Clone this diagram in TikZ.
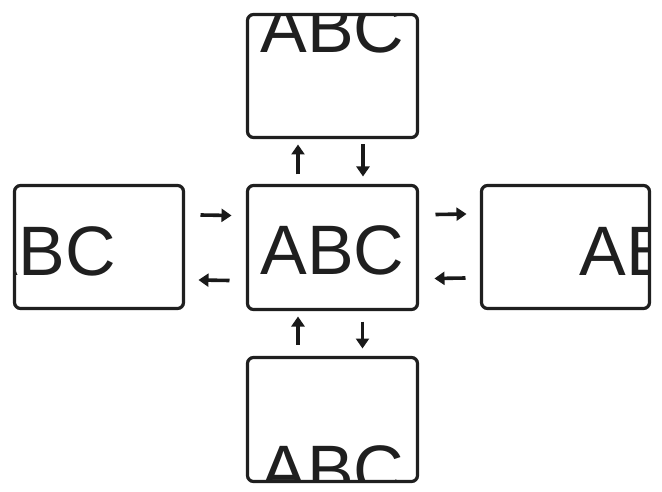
\documentclass[tikz,border=0pt]{standalone}
\usepackage{fontspec}
\setmainfont{Liberation Sans}
\usetikzlibrary{calc,arrows.meta}
\begin{document}
\begin{tikzpicture}[x=1pt,y=-1pt,
  box/.style={draw=black!88, line width=3.2pt, rounded corners=6pt, fill=white,
    minimum width=170pt, minimum height=124pt, inner sep=0pt, outer sep=0pt},
  txt/.style={anchor=base, inner sep=0pt, text=black!88, font=\fontsize{70}{70}\selectfont},
  arr/.style={draw=black!90, line width=3.6pt, -{Triangle[length=10pt,width=13pt]}}]
\useasboundingbox (0,0) rectangle (662,492);
% boxes (size from reference pixels)
\node (c) [box, minimum width=170pt, minimum height=124pt,
  path picture={\node[txt] at ([yshift=-26.5pt]path picture bounding box.center) {ABC};}]
  at (332.5,247.5) {};
\node (t) [box, minimum width=170pt, minimum height=123pt,
  path picture={\node[txt] at ([yshift=23pt]path picture bounding box.center) {ABC};}]
  at (332.5,76) {};
\node (b) [box, minimum width=170pt, minimum height=124pt,
  path picture={\node[txt] at ([yshift=-74.5pt]path picture bounding box.center) {ABC};}]
  at (332.5,419.5) {};
\node (l) [box, minimum width=169pt, minimum height=123pt,
  path picture={\node[txt] at ([xshift=-55.3pt,yshift=-28pt]path picture bounding box.center) {ABC};}]
  at (99,247) {};
\node (r) [box, minimum width=168pt, minimum height=123pt,
  path picture={\node[txt] at ([xshift=86pt,yshift=-28pt]path picture bounding box.center) {ABC};}]
  at (565.5,247) {};
% arrows between center and top
\draw[arr] ($(c.north)+(-34.5,-11)$) -- ($(t.south)+(-34.5,7)$);
\draw[arr] ($(t.south)+(30.5,7)$) -- ($(c.north)+(30.5,-9)$);
% center and bottom
\draw[arr] ($(b.north)+(-34.5,-13)$) -- ($(c.south)+(-34.5,7)$);
\draw[arr] ($(c.south)+(30,12)$) -- ($(b.north)+(30,-9)$);
% left and center
\draw[arr] ($(l.east)+(17,-32)$) -- ($(c.west)+(-16,-32)$);
\draw[arr] ($(c.west)+(-18,33)$) -- ($(l.east)+(15,33)$);
% center and right
\draw[arr] ($(c.east)+(18,-33)$) -- ($(r.west)+(-15,-33)$);
\draw[arr] ($(r.west)+(-16,31)$) -- ($(c.east)+(17,31)$);
\end{tikzpicture}
\end{document}
